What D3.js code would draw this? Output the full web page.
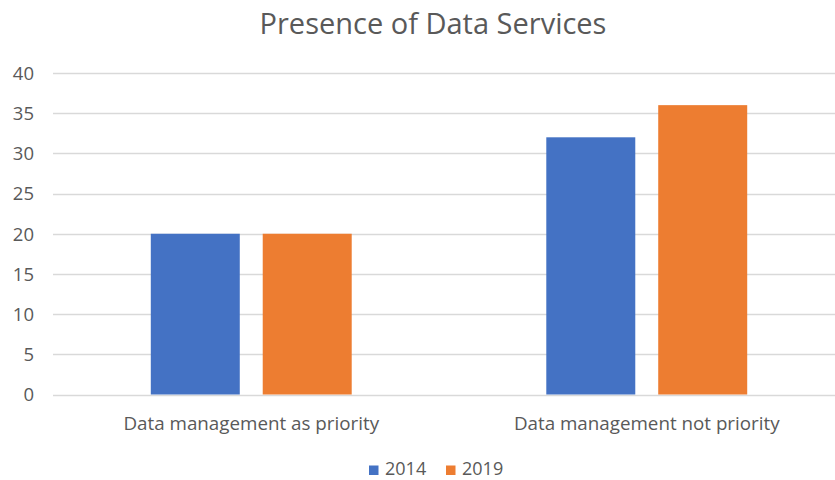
<!DOCTYPE html>
<html><head><meta charset="utf-8">
<script src="https://cdn.jsdelivr.net/npm/d3@7"></script>
<style>body{margin:0;background:#fff}text{font-family:"Open Sans",sans-serif;fill:#595959}</style>
</head><body><svg id="c" width="835" height="480"></svg>
<script>
const categories = ["Data management as priority", "Data management not priority"];
const seriesNames = ["2014", "2019"];
const values2014 = [20, 32];
const values2019 = [20, 36];
const yTicks = [0, 5, 10, 15, 20, 25, 30, 35, 40];
const colors = ["#4472C4", "#ED7D31"];
const title = "Presence of Data Services";

const svg = d3.select("#c");
const seriesVals = [values2014, values2019];
const y = d3.scaleLinear().domain([0, 40]).range([394.5, 73]);
const x0 = d3.scaleBand().domain(categories).range([53.5, 844.5]).paddingInner(0.492).paddingOuter(0.246);
const x1 = d3.scaleBand().domain(seriesNames).range([0, x0.bandwidth()]).paddingInner(0.205);

// gridlines
svg.append("g").selectAll("line").data(yTicks).join("line")
  .attr("x1", 53).attr("x2", 835)
  .attr("y1", d => Math.round(y(d)) + 0.5).attr("y2", d => Math.round(y(d)) + 0.5)
  .attr("stroke", "#d9d9d9").attr("stroke-width", 1.3);

// y labels
const yAxis = d3.axisLeft(y).tickValues(yTicks).tickSize(0).tickPadding(0);
const ya = svg.append("g").attr("transform", "translate(34,0)").call(yAxis);
ya.select(".domain").remove();
ya.selectAll("text").style("font-size", "18.5px").style("fill", "#595959").attr("dy", "0.34em").style("font-family", "'Open Sans',sans-serif");

// bars
categories.forEach((c, ci) => {
  seriesNames.forEach((s, si) => {
    svg.append("rect")
      .attr("x", x0(c) + x1(s)).attr("width", x1.bandwidth())
      .attr("y", y(seriesVals[si][ci])).attr("height", y(0) - y(seriesVals[si][ci]))
      .attr("fill", colors[si]);
  });
});

// x labels
const xAxis = d3.axisBottom(x0).tickSize(0).tickPadding(0);
const xa = svg.append("g").attr("transform", "translate(0,430)").call(xAxis);
xa.select(".domain").remove();
xa.selectAll("text").attr("dy", 0).style("font-size", "18.8px").style("fill", "#595959").style("font-family", "'Open Sans',sans-serif");

// title
svg.append("text").attr("x", 433).attr("y", 34).attr("text-anchor", "middle")
  .style("font-size", "29px").text(title);

// legend
const leg = svg.append("g");
const legX = [369, 446];
seriesNames.forEach((s, i) => {
  leg.append("rect").attr("x", legX[i]).attr("y", 465.5).attr("width", 9.5).attr("height", 9.5).attr("fill", colors[i]);
  leg.append("text").attr("x", legX[i] + 16).attr("y", 475).style("font-size", "18px").text(s);
});
</script></body></html>
